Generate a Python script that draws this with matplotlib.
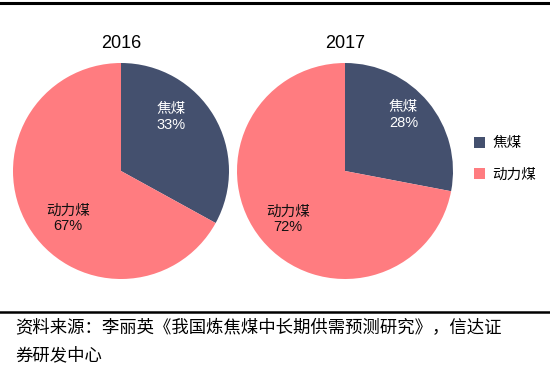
import matplotlib.pyplot as plt
from matplotlib.lines import Line2D
from matplotlib.patches import Patch

plt.rcParams['font.family'] = ['Liberation Sans', 'Noto Sans CJK SC', 'DejaVu Sans']

years = ['2016', '2017']
categories = ['焦煤', '动力煤']
coking = [33, 28]
thermal = [67, 72]
colors = ['#44506E', '#FF7C80']
source_lines = ['资料来源：李丽英《我国炼焦煤中长期供需预测研究》，信达证',
                '券研发中心']

W, H = 550, 378
fig = plt.figure(figsize=(W / 100, H / 100), dpi=100)

centers = [(121, 171), (345, 171)]
r = 108
# label offsets (in pie radius units): coking label, thermal label
coking_pos = [(0.46, 0.50), (0.54, 0.52)]
thermal_pos = [(-0.49, -0.44), (-0.53, -0.45)]

for i, year in enumerate(years):
    cx, cy = centers[i]
    ax = fig.add_axes([(cx - r) / W, (H - cy - r) / H, 2 * r / W, 2 * r / H])
    vals = [coking[i], thermal[i]]
    ax.pie(vals, colors=colors, startangle=90, counterclock=False,
           wedgeprops=dict(linewidth=0))
    ax.set_xlim(-1, 1)
    ax.set_ylim(-1, 1)
    ax.set_aspect('equal')
    ax.axis('off')
    x, y = coking_pos[i]
    ax.text(x, y, f'{categories[0]}\n{coking[i]}%', color='white', fontsize=10.5,
            ha='center', va='center', linespacing=1.15)
    x, y = thermal_pos[i]
    ax.text(x, y, f'{categories[1]}\n{thermal[i]}%', color='#111111', fontsize=10.5,
            ha='center', va='center', linespacing=1.15)
    fig.text(cx / W, 1 - 44 / H, year, fontsize=13, ha='center', va='center')

handles = [Patch(facecolor=c, edgecolor='none') for c in colors]
fig.legend(handles, categories, loc='center left', bbox_to_anchor=(461 / W, 1 - 159 / H),
           frameon=False, fontsize=10.5, handlelength=0.75, handleheight=0.75,
           handletextpad=0.5, labelspacing=1.2)

fig.add_artist(Line2D([0, 1], [1 - 3 / H, 1 - 3 / H], color='black', linewidth=2.2))
fig.add_artist(Line2D([0, 1], [1 - 312 / H, 1 - 312 / H], color='black', linewidth=1.8))

fig.text(15 / W, 1 - 328 / H, source_lines[0], fontsize=12.5, ha='left', va='center',
         family=['Noto Sans CJK SC'])
fig.text(15 / W, 1 - 355 / H, source_lines[1], fontsize=12.5, ha='left', va='center',
         family=['Noto Sans CJK SC'])

fig.savefig('out.png', dpi=100)
